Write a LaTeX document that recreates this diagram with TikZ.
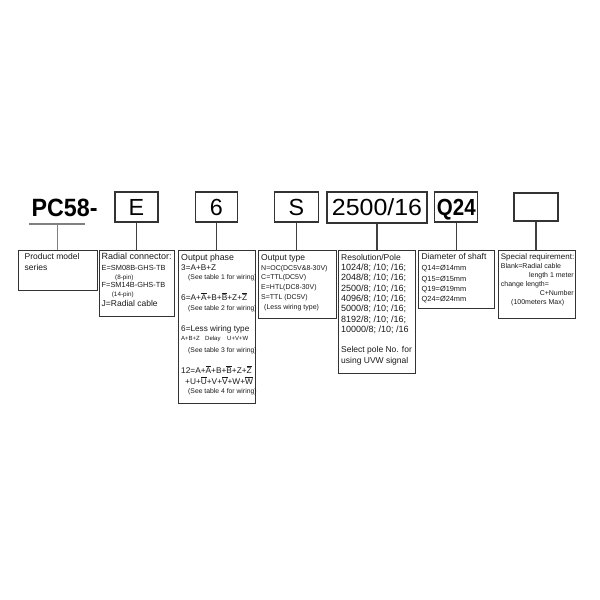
\documentclass[tikz,border=0pt]{standalone}
\usepackage{fontspec}
\setmainfont{Liberation Sans}
\usepackage{graphicx}
\newcounter{tlc}
\newcommand\fsz[1]{\fontsize{#1}{#1}\selectfont}
\newcommand\ob[1]{\ensuremath{\overline{\mbox{#1}}}}
\newcommand\putline[4]{\stepcounter{tlc}\node[tline,font=\fsz{#3}] (L\arabic{tlc}) at (#1,#2) {#4};}
\newcommand\putright[4]{\stepcounter{tlc}\node[tline,anchor=base east,font=\fsz{#3}] (L\arabic{tlc}) at (#1,#2) {#4};}
\begin{document}
\begin{tikzpicture}[x=1pt,y=-1pt,
  tline/.style={anchor=base west,inner sep=0pt,text=black!90},
  topbox/.style={draw=black!80,line width=1.05pt,inner sep=0pt,text height=16.7pt,text depth=0pt,font=\fsz{23.3}},
  botbox/.style={draw=black!80,line width=1.05pt,anchor=north west,inner sep=0pt},
  conn/.style={draw=black!75,line width=1.05pt},
  ulink/.style={draw=black!50,line width=1.05pt}]
\useasboundingbox (0,0) rectangle (600,600);

% ---- header row ----
\node[anchor=base west,inner sep=0pt,font=\fsz{25}] (pc) at (31.5,216.5) {\scalebox{0.93}[1]{\bfseries PC58-}};
\node[topbox,minimum width=43pt,minimum height=30pt] (bE) at (136.5,207) {E};
\node[topbox,minimum width=42pt,minimum height=30pt] (b6) at (216.3,207) {6};
\node[topbox,minimum width=44pt,minimum height=30pt] (bS) at (296.5,207) {S};
\node[topbox,minimum width=100pt,minimum height=31pt] (bR) at (377,207.5) {\scalebox{1.07}[1]{2500/16}};
\node[topbox,minimum width=43pt,minimum height=30pt] (bQ) at (456.3,207) {\scalebox{0.88}[1]{\bfseries Q24}};
\node[topbox,minimum width=44pt,minimum height=28pt] (bX) at (536,207) {};

% ---- lower boxes ----
\node[botbox,minimum width=78.4pt,minimum height=40pt] (prod) at (18.3,250) {};
\node[botbox,minimum width=75pt,minimum height=66pt] (radial) at (99,250) {};
\node[botbox,minimum width=77.6pt,minimum height=152.5pt] (phase) at (177.5,250) {};
\node[botbox,minimum width=78pt,minimum height=68.3pt] (otype) at (257.5,250) {};
\node[botbox,minimum width=77pt,minimum height=123pt] (res) at (338,250) {};
\node[botbox,minimum width=76pt,minimum height=58.3pt] (diam) at (418.3,250) {};
\node[botbox,minimum width=77pt,minimum height=68.3pt] (spec) at (497.5,250) {};

% ---- connectors ----
\coordinate (ulL) at (29,224);
\coordinate (ulR) at (85,224);
\coordinate (ulM) at (57.5,224);
\draw[ulink] (ulL) -- (ulR);
\draw[ulink] (ulM) -- (ulM |- prod.north);
\draw[conn] (bE.south) -- (bE.south |- radial.north);
\draw[conn] (b6.south) -- (b6.south |- phase.north);
\draw[conn] (bS.south) -- (bS.south |- otype.north);
\draw[conn] (bR.south) -- (bR.south |- res.north);
\draw[conn] (bQ.south) -- (bQ.south |- diam.north);
\draw[conn] (bX.south) -- (bX.south |- spec.north);

% ---- product ----
\putline{24.5}{259.5}{8.5}{Product model}
\putline{24.5}{270.2}{8.5}{series}

% ---- radial ----
\putline{101.5}{259.7}{9}{Radial connector:}
\putline{101.5}{270.8}{7.4}{E=SM08B-GHS-TB}
\putline{115}{279.4}{6.3}{(8-pin)}
\putline{101.5}{287.8}{7.4}{F=SM14B-GHS-TB}
\putline{111.7}{296.4}{6.3}{(14-pin)}
\putline{101.5}{306.8}{8.5}{J=Radial cable}

% ---- output phase ----
\putline{181}{260.2}{8.8}{Output phase}
\putline{181}{270.8}{8.2}{3=A+B+Z}
\putline{188}{279.5}{6.8}{(See table 1 for wiring)}
\putline{181}{300.1}{8.3}{6=A+\ob{A}+B+\ob{B}+Z+\ob{Z}}
\putline{188}{310}{6.8}{(See table 2 for wiring)}
\putline{181}{331}{8.2}{6=Less wiring type}
\putline{181}{340.3}{6}{A+B+Z}
\putline{205}{340.3}{6}{Delay}
\putline{227}{340.3}{6}{U+V+W}
\putline{188}{352.3}{6.8}{(See table 3 for wiring)}
\putline{181}{373.6}{8.3}{12=A+\ob{A}+B+\ob{B}+Z+\ob{Z}}
\putline{185}{384.3}{8.3}{+U+\ob{U}+V+\ob{V}+W+\ob{W}}
\putline{188}{393}{6.8}{(See table 4 for wiring)}

% ---- output type ----
\putline{261}{260.1}{8.5}{Output type}
\putline{261}{270}{7}{N=OC(DC5V\&8-30V)}
\putline{261}{279.6}{7}{C=TTL(DC5V)}
\putline{261}{289}{7}{E=HTL(DC8-30V)}
\putline{261}{299}{7}{S=TTL (DC5V)}
\putline{264}{309}{7}{(Less wiring type)}

% ---- resolution ----
\putline{341}{260.1}{8.5}{Resolution/Pole}
\putline{341}{270.6}{9}{1024/8; /10; /16;}
\putline{341}{280.9}{9}{2048/8; /10; /16;}
\putline{341}{291.2}{9}{2500/8; /10; /16;}
\putline{341}{301.5}{9}{4096/8; /10; /16;}
\putline{341}{311.8}{9}{5000/8; /10; /16;}
\putline{341}{322.1}{9}{8192/8; /10; /16;}
\putline{341}{332.4}{9}{10000/8; /10; /16}
\putline{341}{352.8}{8.5}{Select pole No. for}
\putline{341}{363.1}{8.5}{using UVW signal}

% ---- diameter ----
\putline{421.5}{259.5}{8.5}{Diameter of shaft}
\putline{421.5}{270.8}{7.4}{Q14=Ø14mm}
\putline{421.5}{281.5}{7.4}{Q15=Ø15mm}
\putline{421.5}{291.5}{7.4}{Q19=Ø19mm}
\putline{421.5}{301.5}{7.4}{Q24=Ø24mm}

% ---- special ----
\putline{500.7}{259.3}{8}{Special requirement:}
\putline{500.7}{268.4}{7}{Blank=Radial cable}
\putright{574}{277.9}{7}{length 1 meter}
\putline{500.7}{286.7}{7}{change length=}
\putright{574}{295.4}{7}{C+Number}
\putline{511}{304.4}{7}{(100meters Max)}
\end{tikzpicture}
\end{document}
